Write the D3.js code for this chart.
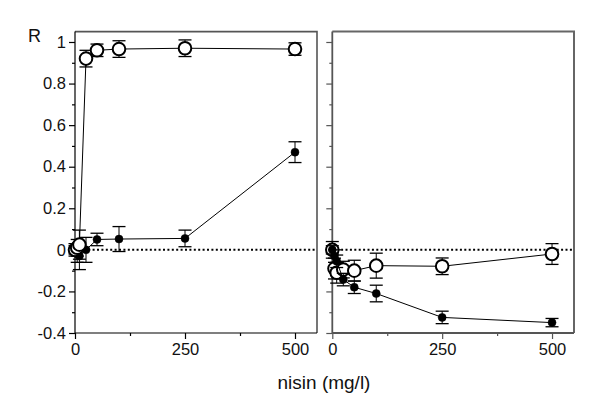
<!DOCTYPE html>
<html>
<head>
<meta charset="utf-8">
<script src="https://cdn.jsdelivr.net/npm/d3@7"></script>
<style>
  html, body { margin: 0; padding: 0; background: #fff; }
  svg { display: block; font-family: "Liberation Sans", Arial, Helvetica, sans-serif; }
</style>
</head>
<body>
<svg id="chart" width="600" height="413"></svg>
<script>
// ---- data ----
const doses = [0, 5, 10, 25, 50, 100, 250, 500];
const leftOpen = [0.0, 0.01, 0.025, 0.92, 0.96, 0.966, 0.97, 0.966];
const leftOpenErr = [0.03, 0.04, 0.07, 0.04, 0.03, 0.04, 0.04, 0.03];
const leftFilled = [0.0, -0.02, -0.03, 0.0, 0.05, 0.052, 0.055, 0.47];
const leftFilledErr = [0.02, 0.04, 0.065, 0.06, 0.03, 0.06, 0.04, 0.05];
const rightOpen = [0.0, -0.09, -0.11, -0.095, -0.10, -0.076, -0.079, -0.02];
const rightOpenErr = [0.04, 0.05, 0.05, 0.04, 0.05, 0.06, 0.04, 0.05];
const rightFilled = [0.0, -0.03, -0.055, -0.143, -0.18, -0.21, -0.325, -0.35];
const rightFilledErr = [0.02, 0.03, 0.03, 0.03, 0.03, 0.04, 0.03, 0.02];
const xTickValues = [0, 250, 500];
const xMinorTicks = [125, 375];
const yTickValues = [-0.4, -0.2, 0, 0.2, 0.4, 0.6, 0.8, 1];
const yTickLabels = ["-0.4", "-0.2", "0", "0.2", "0.4", "0.6", "0.8", "1"];
const yMinorTicks = [-0.3, -0.1, 0.1, 0.3, 0.5, 0.7, 0.9];
const yLabel = "R";
const xLabel = "nisin (mg/l)";

const svg = d3.select("#chart");

const y = d3.scaleLinear().domain([-0.4, 1.05]).range([333, 31.6]);

function panel(x0, x1, openVals, openErr, filledVals, filledErr, opts) {
  const x = d3.scaleLinear().domain([0, 550]).range([x0, x1]);
  const g = svg.append("g");
  const top = y(1.05), bottom = y(-0.4);

  // frame (top & right)
  g.append("path")
    .attr("d", `M${x0},${top}H${x1}V${bottom}`)
    .attr("fill", "none").attr("stroke", opts.frameColor).attr("stroke-width", opts.frameWidth);

  // x axis
  const xa = g.append("g").attr("transform", `translate(0,${bottom})`)
    .call(d3.axisBottom(x).tickValues(xTickValues).tickSize(6).tickSizeOuter(0).tickPadding(4).tickFormat(d3.format("d")));
  const xm = g.append("g").attr("transform", `translate(0,${bottom})`)
    .call(d3.axisBottom(x).tickValues(xMinorTicks).tickSize(3).tickSizeOuter(0).tickFormat(""));
  // y axis
  const ya = g.append("g").attr("transform", `translate(${x0},0)`)
    .call(d3.axisLeft(y).tickValues(yTickValues).tickSize(6).tickSizeOuter(0).tickPadding(3)
      .tickFormat((d, i) => opts.yLabels ? yTickLabels[i] : ""));
  const ym = g.append("g").attr("transform", `translate(${x0},0)`)
    .call(d3.axisLeft(y).tickValues(yMinorTicks).tickSize(3).tickSizeOuter(0).tickFormat(""));

  [xa, xm, ya, ym].forEach(a => {
    a.select(".domain").attr("stroke", opts.axisColor).attr("stroke-width", opts.axisWidth)
      .attr("d", a === xa || a === xm ? `M${x0},0H${x1}` : `M0,${top}V${bottom}`);
    a.selectAll(".tick line").attr("stroke", opts.axisColor).attr("stroke-width", 1.2);
    a.selectAll("text").attr("font-size", 16.5).attr("fill", "#111")
      .attr("font-family", "'Liberation Sans', Arial, Helvetica, sans-serif");
  });
  xm.select(".domain").remove();
  ym.select(".domain").remove();

  // dotted zero line
  g.append("line")
    .attr("x1", x(0)).attr("x2", x1).attr("y1", y(0)).attr("y2", y(0))
    .attr("stroke", "#000").attr("stroke-width", 2).attr("stroke-dasharray", "2,2.4");

  const line = d3.line().x((d, i) => x(doses[i])).y(d => y(d));

  function series(vals, errs, filled) {
    const sg = g.append("g");
    sg.append("path").datum(vals).attr("d", line)
      .attr("fill", "none").attr("stroke", "#000").attr("stroke-width", 1);
    const cap = 6.5;
    const eb = sg.selectAll(".eb").data(vals).join("g");
    eb.append("line")
      .attr("x1", (d, i) => x(doses[i])).attr("x2", (d, i) => x(doses[i]))
      .attr("y1", (d, i) => y(d + errs[i])).attr("y2", (d, i) => y(d - errs[i]))
      .attr("stroke", "#000").attr("stroke-width", 1);
    eb.append("line")
      .attr("x1", (d, i) => x(doses[i]) - cap).attr("x2", (d, i) => x(doses[i]) + cap)
      .attr("y1", (d, i) => y(d + errs[i])).attr("y2", (d, i) => y(d + errs[i]))
      .attr("stroke", "#000").attr("stroke-width", 1.3);
    eb.append("line")
      .attr("x1", (d, i) => x(doses[i]) - cap).attr("x2", (d, i) => x(doses[i]) + cap)
      .attr("y1", (d, i) => y(d - errs[i])).attr("y2", (d, i) => y(d - errs[i]))
      .attr("stroke", "#000").attr("stroke-width", 1.3);
    sg.selectAll("circle").data(vals).join("circle")
      .attr("cx", (d, i) => x(doses[i])).attr("cy", d => y(d))
      .attr("r", filled ? 4 : 6.3)
      .attr("fill", filled ? "#000" : "#fff")
      .attr("stroke", "#000").attr("stroke-width", filled ? 0.5 : 2);
  }

  if (opts.openOnTop) {
    series(filledVals, filledErr, true);
    series(openVals, openErr, false);
  } else {
    series(openVals, openErr, false);
    series(filledVals, filledErr, true);
  }
}

panel(75, 317, leftOpen, leftOpenErr, leftFilled, leftFilledErr,
  { yLabels: true, frameColor: "#555", frameWidth: 1.6, axisColor: "#000", axisWidth: 1.2, openOnTop: true });
panel(332.3, 574, rightOpen, rightOpenErr, rightFilled, rightFilledErr,
  { yLabels: false, frameColor: "#666", frameWidth: 2, axisColor: "#555", axisWidth: 1.8, openOnTop: false });

svg.append("text").attr("x", 28).attr("y", 42).attr("font-size", 18).attr("fill", "#111").text(yLabel);
svg.append("text").attr("x", 324).attr("y", 389).attr("text-anchor", "middle")
  .attr("font-size", 19).attr("fill", "#111").text(xLabel);
</script>
</body>
</html>
